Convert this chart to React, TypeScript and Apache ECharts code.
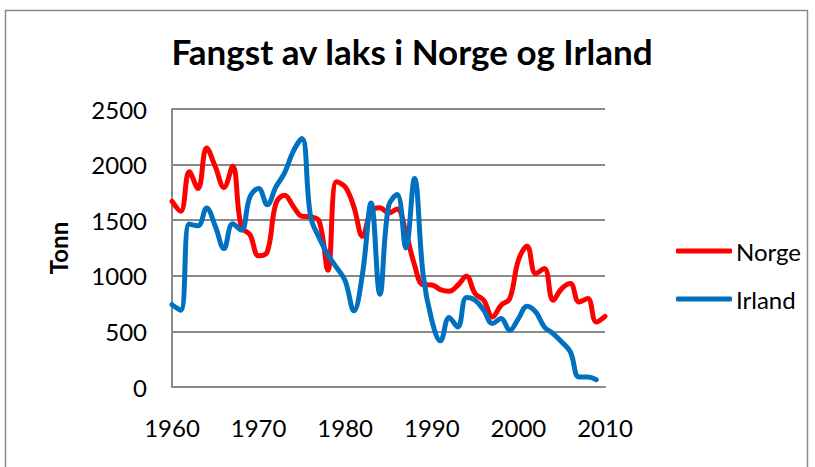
import React, { useEffect, useRef } from "react";
import * as echarts from "echarts";

const titleText = "Fangst av laks i Norge og Irland";
const yAxisTitle = "Tonn";
const seriesNames = ["Norge", "Irland"];

const norgeYears = [
  1960, 1961, 1962, 1963, 1964, 1965, 1966, 1967, 1968, 1969,
  1970, 1971, 1972, 1973, 1974, 1975, 1976, 1977, 1978, 1979,
  1980, 1981, 1982, 1983, 1984, 1985, 1986, 1987, 1988, 1989,
  1990, 1991, 1992, 1993, 1994, 1995, 1996, 1997, 1998, 1999,
  2000, 2001, 2002, 2003, 2004, 2005, 2006, 2007, 2008, 2009, 2010,
];
const norgeValues = [
  1670, 1580, 1935, 1785, 2150, 1980, 1795, 1985, 1440, 1370,
  1180, 1215, 1650, 1725, 1625, 1535, 1530, 1490, 1050, 1845,
  1800, 1620, 1355, 1580, 1612, 1565, 1600, 1390, 1100, 920,
  918, 875, 860, 915, 996, 840, 780, 630, 735, 795,
  1140, 1266, 1020, 1065, 780, 885, 930, 765, 795, 585, 636,
];

const irlandYears = [
  1960, 1961, 1962, 1963, 1964, 1965, 1966, 1967, 1968, 1969,
  1970, 1971, 1972, 1973, 1974, 1975, 1976, 1977, 1978, 1979,
  1980, 1981, 1982, 1983, 1984, 1985, 1986, 1987, 1988, 1989,
  1990, 1991, 1992, 1993, 1994, 1995, 1996, 1997, 1998, 1999,
  2000, 2001, 2002, 2003, 2004, 2005, 2006, 2007, 2008, 2009,
];
const irlandValues = [
  740, 690, 1465, 1450, 1610, 1445, 1245, 1467, 1410, 1710,
  1785, 1640, 1800, 1925, 2120, 2235, 1535, 1340, 1190, 1075,
  955, 685, 1020, 1655, 835, 1625, 1730, 1250, 1875, 1010,
  600, 415, 625, 540, 804, 780, 690, 570, 615, 510,
  615, 726, 675, 540, 480, 405, 315, 90, 90, 66,
];

const xMin = 1960;
const xMax = 2010;
const xInterval = 10;
const yMin = 0;
const yMax = 2500;
const yInterval = 500;

const FONT = "Lato, 'Open Sans', sans-serif";

export default function App() {
  const ref = useRef<HTMLDivElement>(null);

  useEffect(() => {
    document.body.style.margin = "0";
    if (!ref.current) return;
    const chart = echarts.init(ref.current, undefined, { renderer: "svg" });
    const norgeData = norgeYears.map((y, i) => [y, norgeValues[i]]);
    const irlandData = irlandYears.map((y, i) => [y, irlandValues[i]]);
    chart.setOption({
      animation: false,
      backgroundColor: "#ffffff",
      title: {
        text: titleText,
        left: 407,
        top: 28,
        textAlign: "center",
        textStyle: {
          fontFamily: FONT,
          fontWeight: "bold",
          fontSize: 35,
          color: "#000000",
        },
      },
      graphic: [
        {
          type: "rect",
          shape: { x: 5.5, y: 10.5, width: 802, height: 480 },
          style: { fill: "none", stroke: "#8a8a8a", lineWidth: 1.5 },
          silent: true,
          z: -1,
        },
      ],
      legend: {
        orient: "vertical",
        left: 671,
        top: 234,
        itemWidth: 56,
        itemHeight: 5,
        itemGap: 24,
        icon: "roundRect",
        data: seriesNames,
        textStyle: {
          fontFamily: FONT,
          fontSize: 24,
          lineHeight: 24,
          color: "#000000",
          padding: [0, 0, 0, -1],
        },
      },
      grid: {
        left: 172,
        right: 210,
        top: 109,
        bottom: 80,
        containLabel: false,
      },
      xAxis: {
        type: "value",
        min: xMin,
        max: xMax,
        interval: xInterval,
        axisLine: { show: true, lineStyle: { color: "#8a8a8a", width: 2 } },
        axisTick: { show: false },
        splitLine: { show: false },
        axisLabel: {
          fontFamily: FONT,
          fontSize: 24,
          color: "#000000",
          margin: 28,
          formatter: (v: number) => String(v),
        },
      },
      yAxis: {
        type: "value",
        min: yMin,
        max: yMax,
        interval: yInterval,
        name: yAxisTitle,
        nameLocation: "middle",
        nameRotate: 90,
        nameGap: 102,
        nameTextStyle: {
          fontFamily: FONT,
          fontWeight: "bold",
          fontSize: 24,
          color: "#000000",
        },
        axisLine: { show: true, lineStyle: { color: "#8a8a8a", width: 2 } },
        axisTick: { show: false },
        splitLine: { show: true, lineStyle: { color: "#8a8a8a", width: 2 } },
        axisLabel: {
          fontFamily: FONT,
          fontSize: 24,
          color: "#000000",
          margin: 25,
          formatter: (v: number) => String(v),
        },
      },
      series: [
        {
          name: seriesNames[0],
          type: "line",
          data: norgeData,
          smooth: 0.4,
          symbol: "none",
          lineStyle: { color: "#ff0000", width: 5, cap: "round", join: "round" },
          itemStyle: { color: "#ff0000" },
        },
        {
          name: seriesNames[1],
          type: "line",
          data: irlandData,
          smooth: 0.4,
          symbol: "none",
          lineStyle: { color: "#0070c0", width: 5, cap: "round", join: "round" },
          itemStyle: { color: "#0070c0" },
        },
      ],
    });
    return () => chart.dispose();
  }, []);

  return <div ref={ref} style={{ width: 815, height: 467 }} />;
}
